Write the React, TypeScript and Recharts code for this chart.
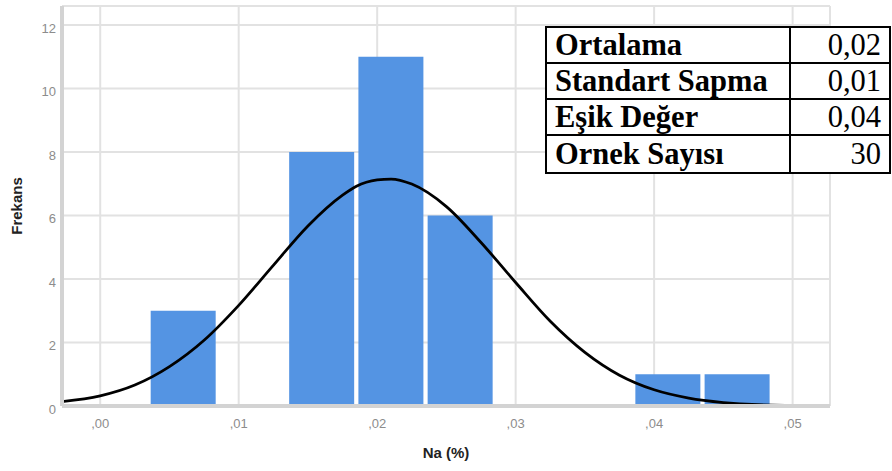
import React from 'react';
import { ComposedChart, Bar, Line, XAxis, YAxis, CartesianGrid } from 'recharts';

// Histogram bins (bin centre, frequency)
const binCenters = [0.006, 0.011, 0.016, 0.021, 0.026, 0.031, 0.036, 0.041, 0.046];
const binCounts = [3, 0, 8, 11, 6, 0, 0, 1, 1];

// Normal curve
const curveX = [-0.00276, 0.0, 0.0025, 0.005, 0.0075, 0.01, 0.0125, 0.015, 0.0175, 0.0185, 0.02, 0.021, 0.0225, 0.025, 0.0275, 0.03, 0.0325, 0.035, 0.0375, 0.04, 0.0425, 0.045, 0.0475, 0.05, 0.0527];
const curveY = [0.14, 0.32, 0.66, 1.24, 2.07, 3.17, 4.43, 5.67, 6.64, 6.92, 7.12, 7.15, 6.99, 6.28, 5.15, 3.89, 2.67, 1.69, 0.97, 0.51, 0.25, 0.11, 0.04, 0.02, 0.01];

const xTicks = [0, 0.01, 0.02, 0.03, 0.04, 0.05];
const xTickLabels = [',00', ',01', ',02', ',03', ',04', ',05'];
const yTicks = [0, 2, 4, 6, 8, 10, 12];

const statLabels = ['Ortalama', 'Standart Sapma', 'Eşik Değer', 'Ornek Sayısı'];
const statValues = ['0,02', '0,01', '0,04', '30'];

const bins = binCenters.map((x, i) => ({ x, count: binCounts[i] }));
const curve = curveX.map((x, i) => ({ x, y: curveY[i] }));

const X_DOMAIN: [number, number] = [-0.00276, 0.0527];

export default function App() {
  return (
    <div
      style={{
        position: 'absolute',
        left: 0,
        top: 0,
        width: 892,
        height: 471,
        background: '#fff',
        fontFamily: '"Liberation Sans", Arial, sans-serif',
      }}
    >
      <ComposedChart
        width={892}
        height={471}
        data={bins}
        margin={{ top: 6, right: 62, bottom: 0, left: 0 }}
      >
        <CartesianGrid stroke="#e2e2e2" strokeWidth={2} />
        <XAxis
          dataKey="x"
          type="number"
          domain={X_DOMAIN}
          allowDataOverflow
          ticks={xTicks}
          interval={0}
          tickFormatter={(v: number, i: number) => xTickLabels[i]}
          height={65}
          axisLine={{ stroke: '#d3d3d3', strokeWidth: 4 }}
          tickLine={false}
          tick={{ fill: '#8c8c8c', fontSize: 13 }}
          tickMargin={7}
          label={{
            value: 'Na (%)',
            position: 'insideBottom',
            offset: 13,
            style: { fontWeight: 'bold', fontSize: 15, fill: '#222' },
          }}
        />
        <XAxis
          xAxisId="bins"
          dataKey="x"
          type="number"
          domain={X_DOMAIN}
          allowDataOverflow
          hide
          height={65}
        />
        <YAxis
          type="number"
          domain={[0, 12.6]}
          allowDataOverflow
          ticks={yTicks}
          interval={0}
          width={62}
          axisLine={{ stroke: '#d3d3d3', strokeWidth: 4 }}
          tickLine={false}
          tickSize={4}
          tickMargin={2}
          tick={{ fill: '#8c8c8c', fontSize: 13, dy: 3 }}
          label={{
            value: 'Frekans',
            angle: -90,
            position: 'insideLeft',
            offset: 17,
            style: { fontWeight: 'bold', fontSize: 15, fill: '#222', textAnchor: 'middle' },
          }}
        />
        <Bar xAxisId="bins" dataKey="count" fill="#5494e3" barSize={65} isAnimationActive={false} />
        <Line
          data={curve}
          dataKey="y"
          type="monotone"
          stroke="#000"
          strokeWidth={2.75}
          dot={false}
          activeDot={false}
          isAnimationActive={false}
        />
      </ComposedChart>
      <div
        style={{
          position: 'absolute',
          left: 545,
          top: 26,
          width: 346,
          height: 148,
          boxSizing: 'border-box',
          border: '2px solid #000',
          background: '#fff',
          display: 'grid',
          gridTemplateColumns: '244px 1fr',
          gridTemplateRows: 'repeat(4, 1fr)',
          fontFamily: '"Liberation Serif", "Times New Roman", serif',
          fontSize: 30.5,
          color: '#000',
        }}
      >
        {statLabels.map((lab, i) => (
          <React.Fragment key={lab}>
            <div
              style={{
                borderRight: '2px solid #000',
                borderBottom: i < statLabels.length - 1 ? '2px solid #000' : 'none',
                display: 'flex',
                alignItems: 'center',
                paddingLeft: 8,
                fontWeight: 'bold',
                lineHeight: 1,
                whiteSpace: 'nowrap',
                overflow: 'hidden',
              }}
            >
              {lab}
            </div>
            <div
              style={{
                borderBottom: i < statLabels.length - 1 ? '2px solid #000' : 'none',
                display: 'flex',
                alignItems: 'center',
                justifyContent: 'flex-end',
                paddingRight: 8,
                lineHeight: 1,
                whiteSpace: 'nowrap',
              }}
            >
              {statValues[i]}
            </div>
          </React.Fragment>
        ))}
      </div>
    </div>
  );
}
